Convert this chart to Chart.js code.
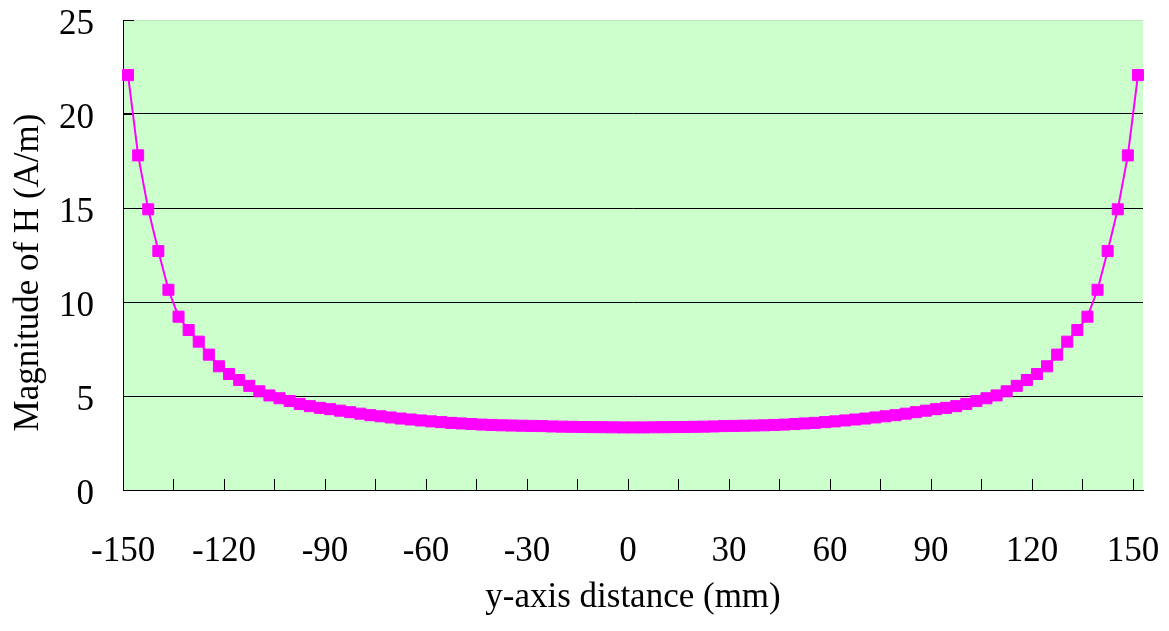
<!DOCTYPE html>
<html>
<head>
<meta charset="utf-8">
<title>Magnitude of H along the y-axis</title>
<script src="https://cdn.jsdelivr.net/npm/chart.js@4.4.1/dist/chart.umd.min.js"></script>
<style>
  html, body { margin: 0; padding: 0; background: #fff; }
  #wrap { width: 1169px; height: 631px; }
</style>
</head>
<body>
<div id="wrap"><canvas id="chart" width="1169" height="631"></canvas></div>
<script>
// y-axis distance (mm), one category per sample
const distances = [
  -150, -147, -144, -141, -138, -135, -132, -129, -126, -123,
  -120, -117, -114, -111, -108, -105, -102, -99, -96, -93,
  -90, -87, -84, -81, -78, -75, -72, -69, -66, -63,
  -60, -57, -54, -51, -48, -45, -42, -39, -36, -33,
  -30, -27, -24, -21, -18, -15, -12, -9, -6, -3,
  0, 3, 6, 9, 12, 15, 18, 21, 24, 27,
  30, 33, 36, 39, 42, 45, 48, 51, 54, 57,
  60, 63, 66, 69, 72, 75, 78, 81, 84, 87,
  90, 93, 96, 99, 102, 105, 108, 111, 114, 117,
  120, 123, 126, 129, 132, 135, 138, 141, 144, 147,
  150
];

// |H| (A/m)
const magnitudeH = [
  22.07, 17.80, 14.93, 12.71, 10.65, 9.22, 8.51, 7.89, 7.20, 6.58,
  6.17, 5.85, 5.54, 5.25, 5.03, 4.88, 4.73, 4.58, 4.46, 4.37,
  4.30, 4.22, 4.14, 4.06, 3.98, 3.92, 3.86, 3.80, 3.75, 3.70,
  3.65, 3.61, 3.57, 3.54, 3.51, 3.48, 3.46, 3.44, 3.43, 3.42,
  3.41, 3.40, 3.38, 3.37, 3.36, 3.35, 3.345, 3.34, 3.335, 3.33,
  3.33,
  3.33, 3.335, 3.34, 3.345, 3.35, 3.36, 3.37, 3.38, 3.40, 3.41,
  3.42, 3.43, 3.44, 3.46, 3.48, 3.51, 3.54, 3.57, 3.61, 3.65,
  3.70, 3.75, 3.80, 3.86, 3.92, 3.98, 4.06, 4.14, 4.22, 4.30,
  4.37, 4.46, 4.58, 4.73, 4.88, 5.03, 5.25, 5.54, 5.85, 6.17,
  6.58, 7.20, 7.89, 8.51, 9.22, 10.65, 12.71, 14.93, 17.80, 22.07
];

const yTicks = [0, 5, 10, 15, 20, 25];
const labelEvery = 10; // a label every 30 mm
const markEvery = 5;   // a tick mark every 15 mm

const serif = "'Liberation Serif', 'Times New Roman', serif";
const lineColor = '#FF00FF';

// green plot area + the small inward tick marks Excel draws
const plotDecor = {
  id: 'plotDecor',
  beforeDraw(chart) {
    const { ctx, chartArea: a } = chart;
    ctx.save();
    ctx.fillStyle = '#CCFFCC';
    ctx.fillRect(a.left, a.top, a.right - a.left, a.bottom - a.top);
    ctx.restore();
  },
  beforeDatasetsDraw(chart) {
    const { ctx, chartArea: a, scales } = chart;
    const x = scales.x, y = scales.y;
    const half = (x.getPixelForValue(1) - x.getPixelForValue(0)) / 2;
    ctx.save();
    ctx.strokeStyle = '#000';
    ctx.lineWidth = 1;
    ctx.beginPath();
    for (let i = 0; i < distances.length; i += markEvery) {
      const px = Math.round(x.getPixelForValue(i) - half) + 0.5;
      ctx.moveTo(px, a.bottom);
      ctx.lineTo(px, a.bottom - 11);
    }
    yTicks.forEach(v => {
      const py = Math.round(y.getPixelForValue(v)) + 0.5;
      ctx.moveTo(a.left, py);
      ctx.lineTo(a.left + 11, py);
    });
    ctx.stroke();
    ctx.restore();
  }
};

new Chart(document.getElementById('chart'), {
  type: 'line',
  data: {
    labels: distances,
    datasets: [{
      label: 'Magnitude of H',
      data: magnitudeH,
      borderColor: lineColor,
      backgroundColor: lineColor,
      borderWidth: 2,
      pointStyle: 'rect',
      pointRadius: 7.8,
      pointBorderWidth: 1,
      pointBorderColor: lineColor,
      pointBackgroundColor: lineColor,
      tension: 0,
      fill: false
    }]
  },
  options: {
    responsive: false,
    animation: false,
    layout: { padding: { top: 20, right: 26, left: 0, bottom: 0 } },
    plugins: {
      legend: { display: false },
      tooltip: { enabled: false }
    },
    scales: {
      x: {
        type: 'category',
        offset: true,
        afterFit: s => {
          s.height = 141;
          s.paddingLeft = 0;
          s.paddingRight = 0;
        },
        grid: { display: false, drawTicks: false, tickLength: 0 },
        border: { display: true, color: '#000', width: 1 },
        ticks: {
          autoSkip: false,
          maxRotation: 0,
          minRotation: 0,
          padding: 41,
          labelOffset: -5,
          color: '#000',
          font: { family: serif, size: 35 },
          callback: function (val, index) {
            return index % labelEvery === 0 ? String(this.getLabelForValue(val)) : '';
          }
        },
        title: {
          display: true,
          text: 'y-axis distance (mm)',
          color: '#000',
          font: { family: serif, size: 35 },
          padding: { top: 0, bottom: 12 }
        }
      },
      y: {
        type: 'linear',
        min: 0,
        max: 25,
        afterFit: s => {
          s.width = 123;
          s.paddingTop = 0;
          s.paddingBottom = 0;
        },
        afterBuildTicks: s => { s.ticks = yTicks.map(v => ({ value: v })); },
        grid: {
          drawTicks: false,
          tickLength: 0,
          lineWidth: 1,
          color: c => c.tick.value === 0 ? 'rgba(0,0,0,0)'
            : (c.tick.value === 25 ? '#B8EBB8' : '#000')
        },
        border: { display: true, color: '#000', width: 1 },
        ticks: {
          padding: 29,
          labelOffset: 5,
          color: '#000',
          font: { family: serif, size: 35 }
        },
        title: {
          display: true,
          // trailing spaces push the centred text down, as in the original
          text: 'Magnitude of H (A/m)    ',
          color: '#000',
          font: { family: serif, size: 35 },
          padding: { top: 8, bottom: 0 }
        }
      }
    }
  },
  plugins: [plotDecor]
});
</script>
</body>
</html>
